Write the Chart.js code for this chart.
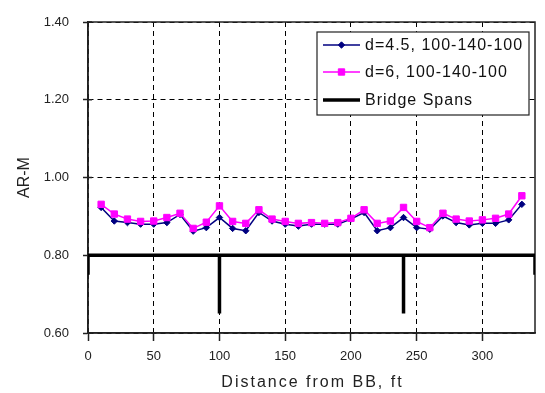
<!DOCTYPE html>
<html><head><meta charset="utf-8">
<script src="https://cdn.jsdelivr.net/npm/chart.js@4.4.0/dist/chart.umd.min.js"></script>
<style>html,body{margin:0;padding:0;background:#fff;}#wrap{width:545px;height:393px;}</style>
</head><body><div id="wrap"><canvas id="c" width="545" height="393"></canvas></div>
<script>
const distances = [10,20,30,40,50,60,70,80,90,100,110,120,130,140,150,160,170,180,190,200,210,220,230,240,250,260,270,280,290,300,310,320,330];
const armD45 = [0.923,0.888,0.884,0.880,0.880,0.884,0.905,0.862,0.871,0.897,0.869,0.863,0.910,0.888,0.880,0.875,0.880,0.880,0.880,0.893,0.910,0.863,0.871,0.897,0.871,0.867,0.901,0.884,0.878,0.882,0.882,0.891,0.931];
const armD6 = [0.931,0.906,0.893,0.887,0.888,0.897,0.908,0.869,0.885,0.927,0.887,0.882,0.917,0.893,0.887,0.882,0.884,0.882,0.884,0.895,0.917,0.882,0.888,0.923,0.887,0.871,0.908,0.893,0.888,0.891,0.895,0.906,0.953];
const spanX = [0,0,100,100,100,240,240,240,340,340];
const spanY = [0.75,0.80,0.80,0.65,0.80,0.80,0.65,0.80,0.80,0.75];
const xTicks = [0,50,100,150,200,250,300];
const yTicks = [0.60,0.80,1.00,1.20,1.40];
const seriesLabels = ['d=4.5, 100-140-100','d=6, 100-140-100','Bridge Spans'];
const xTitle = 'Distance from BB, ft';
const yTitle = 'AR-M';

const toPts = (xs, ys) => xs.map((x,i)=>({x:x, y:ys[i]}));
const FONT = "'Liberation Sans', Arial, sans-serif";

const framePlugin = {
  id:'frame',
  beforeDatasetsDraw(chart){
    const {ctx, chartArea:a} = chart;
    ctx.save();
    ctx.strokeStyle='#222'; ctx.lineWidth=1.5;
    ctx.strokeRect(a.left, a.top, a.right-a.left, a.bottom-a.top);
    const ys = chart.scales.y;
    yTicks.forEach(v=>{const p=ys.getPixelForValue(v); ctx.beginPath(); ctx.moveTo(a.left,p); ctx.lineTo(a.left+4,p); ctx.stroke();});
    ctx.restore();
  },
  afterDraw(chart){
    const {ctx, chartArea:a} = chart;
    ctx.save();
    ctx.fillStyle='#222'; ctx.font="16px "+FONT; ctx.textAlign='center'; ctx.textBaseline='middle';
    if ('letterSpacing' in ctx) ctx.letterSpacing='2px';
    ctx.fillText(xTitle,(a.left+a.right)/2+1,383);
    ctx.restore();
  }
};

const legendPlugin = {
  id:'boxLegend',
  afterDraw(chart){
    const ctx = chart.ctx;
    const bx=317, by=32, bw=212, bh=83;
    ctx.save();
    ctx.fillStyle='#fff'; ctx.fillRect(bx,by,bw,bh);
    ctx.strokeStyle='#222'; ctx.lineWidth=1.2; ctx.strokeRect(bx,by,bw,bh);
    const rows=[45,72,100];
    const ds = chart.data.datasets;
    [0,1,2].forEach((di,i)=>{
      const d=ds[di]; const y=rows[i];
      ctx.setLineDash([]);
      ctx.strokeStyle=d.borderColor; ctx.lineWidth=d.borderWidth;
      ctx.beginPath(); ctx.moveTo(323,y); ctx.lineTo(360,y); ctx.stroke();
      if (d.pointRadius>0){
        ctx.fillStyle=d.pointBackgroundColor; ctx.strokeStyle=d.pointBorderColor; ctx.lineWidth=1;
        Chart.helpers.drawPoint(ctx,{pointStyle:d.pointStyle,radius:d.pointRadius,borderWidth:1,rotation:0},341.5,y);
      }
      ctx.fillStyle='#111'; ctx.font="16px "+FONT; ctx.textBaseline='middle'; ctx.textAlign='left';
      if ('letterSpacing' in ctx) ctx.letterSpacing='1px';
      ctx.fillText(d.label,365,y+1);
      if ('letterSpacing' in ctx) ctx.letterSpacing='0px';
    });
    ctx.restore();
  }
};

new Chart(document.getElementById('c'), {
  type:'scatter',
  data:{datasets:[
    {label:seriesLabels[0], data:toPts(distances,armD45), showLine:true, borderColor:'#000080', backgroundColor:'#000080', pointBackgroundColor:'#000080', pointBorderColor:'#000080', borderWidth:1.5, pointStyle:'rectRot', pointRadius:3.2, pointBorderWidth:1, order:1},
    {label:seriesLabels[1], data:toPts(distances,armD6), showLine:true, borderColor:'#ff00ff', backgroundColor:'#ff00ff', pointBackgroundColor:'#ff00ff', pointBorderColor:'#ff00ff', borderWidth:1.5, pointStyle:'rect', pointRadius:4.5, pointBorderWidth:1, order:0},
    {label:seriesLabels[2], data:toPts(spanX,spanY), showLine:true, borderColor:'#000', backgroundColor:'#000', pointBackgroundColor:'#000', pointBorderColor:'#000', borderWidth:3.5, pointRadius:0, order:2, borderCapStyle:'butt', borderJoinStyle:'miter'}
  ]},
  options:{
    responsive:false, animation:false, devicePixelRatio:1,
    layout:{padding:{top:22,right:10,left:0,bottom:0}},
    plugins:{legend:{display:false}, tooltip:{enabled:false}},
    scales:{
      x:{type:'linear', min:0, max:340,
        afterFit(s){s.height=60;},
        afterBuildTicks(s){s.ticks = xTicks.map(v=>({value:v}));},
        ticks:{color:'#222', font:{family:FONT,size:13}, padding:8, maxRotation:0, callback:v=>String(v)},
        grid:{color:'#000', lineWidth:1, tickLength:8, tickColor:'#222', tickWidth:1.5, tickBorderDash:[]},
        border:{display:true, color:'#222', width:1.5, dash:[5,4]},
        title:{display:false}
      },
      y:{type:'linear', min:0.6, max:1.4,
        afterFit(s){s.width=88;},
        afterBuildTicks(s){s.ticks = yTicks.map(v=>({value:v}));},
        ticks:{color:'#222', font:{family:FONT,size:13}, padding:14, callback:v=>Number(v).toFixed(2)},
        grid:{color:'#000', lineWidth:1, tickLength:5, tickColor:'#222', tickWidth:1.5, tickBorderDash:[]},
        border:{display:true, color:'#222', width:1.5, dash:[5,4]},
        title:{display:true, text:yTitle, color:'#222', font:{family:FONT,size:16}, padding:{top:15,bottom:0}}
      }
    }
  },
  plugins:[framePlugin, legendPlugin]
});
</script></body></html>
